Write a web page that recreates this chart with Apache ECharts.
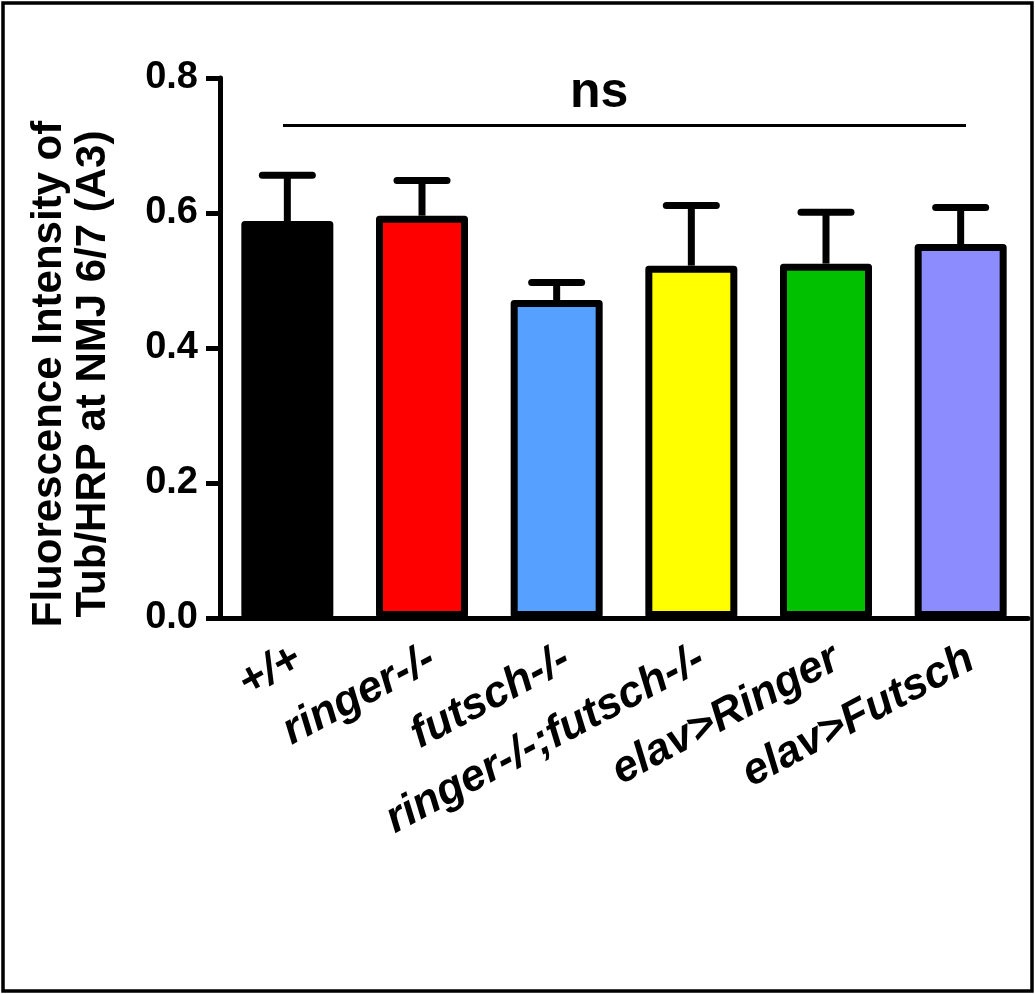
<!DOCTYPE html>
<html>
<head>
<meta charset="utf-8">
<script src="https://cdn.jsdelivr.net/npm/echarts@6/dist/echarts.min.js"></script>
<style>
  html, body { margin: 0; padding: 0; background: #fff; }
  #chart { width: 1035px; height: 994px; }
</style>
</head>
<body>
<div id="chart"></div>
<script>
const categories = ['+/+', 'ringer-/-', 'futsch-/-', 'ringer-/-;futsch-/-', 'elav>Ringer', 'elav>Futsch'];
const means = [0.588, 0.596, 0.471, 0.522, 0.525, 0.554];
const sem = [0.068, 0.052, 0.026, 0.089, 0.076, 0.054];
const barColors = ['#000000', '#ff0000', '#56a0ff', '#ffff00', '#00c000', '#8c8cff'];
const yTicks = ['0.0', '0.2', '0.4', '0.6', '0.8'];
const sigLevel = 0.73;
const sigText = 'ns';

const font = "'Liberation Sans', Arial, sans-serif";
const myChart = echarts.init(document.getElementById('chart'));

const option = {
  animation: false,
  grid: { left: 220, right: 7, top: 78, bottom: 376, outerBoundsMode: 'none', containLabel: false },
  xAxis: {
    type: 'category',
    data: categories,
    axisLine: { lineStyle: { color: '#000', width: 5 } },
    axisTick: { length: 14, lineStyle: { color: '#000', width: 5 } },
    axisLabel: {
      rotate: 28,
      margin: 44,
      padding: [0, -12, 0, 0],
      color: '#000',
      fontFamily: font,
      fontWeight: 'bold',
      fontStyle: 'italic',
      fontSize: 44
    }
  },
  yAxis: {
    type: 'value',
    min: 0,
    max: 0.8,
    interval: 0.2,
    name: 'Fluorescence Intensity of\nTub/HRP at NMJ 6/7 (A3)',
    nameLocation: 'middle',
    nameRotate: 90,
    nameGap: 105,
    nameTextStyle: {
      color: '#000',
      fontFamily: font,
      fontWeight: 'bold',
      fontSize: 42,
      lineHeight: 44,
      padding: [0, 52, 0, 0]
    },
    splitLine: { show: false },
    axisLine: { show: true, lineStyle: { color: '#000', width: 5 } },
    axisTick: { show: true, length: 14, lineStyle: { color: '#000', width: 5 } },
    axisLabel: {
      margin: 22,
      color: '#000',
      fontFamily: font,
      fontWeight: 'bold',
      fontSize: 38,
      formatter: (v) => yTicks[Math.round(v / 0.2)]
    }
  },
  series: [
    {
      type: 'bar',
      barWidth: 92,
      data: means.map((v, i) => ({
        value: v,
        itemStyle: { color: barColors[i] }
      })),
      itemStyle: { borderColor: '#000', borderWidth: 7, borderJoin: 'round' },
      markLine: {
        silent: true,
        symbol: 'none',
        lineStyle: { color: '#000', width: 3, type: 'solid' },
        label: { show: false },
        data: [[{ coord: [0, sigLevel], x: 283 }, { coord: [5, sigLevel], x: 966 }]]
      }
    },
    {
      type: 'custom',
      data: means.map((v, i) => [i, v, v + sem[i]]),
      renderItem: (params, api) => {
        const base = api.coord([api.value(0), api.value(1)]);
        const top = api.coord([api.value(0), api.value(2)]);
        const half = 25;
        const style = { stroke: '#000', lineWidth: 7, lineCap: 'round' };
        return {
          type: 'group',
          children: [
            { type: 'line', shape: { x1: base[0], y1: base[1], x2: top[0], y2: top[1] }, style: { stroke: '#000', lineWidth: 7 } },
            { type: 'line', shape: { x1: top[0] - half, y1: top[1], x2: top[0] + half, y2: top[1] }, style: style }
          ]
        };
      },
      z: 1
    }
  ],
  graphic: [
    {
      type: 'rect',
      shape: { x: 3, y: 3, width: 1029, height: 988 },
      style: { fill: 'none', stroke: '#000', lineWidth: 3.5 },
      silent: true
    },
    {
      type: 'text',
      left: 570,
      top: 68,
      style: { text: sigText, fill: '#000', font: 'bold 50px ' + font }
    }
  ]
};

myChart.setOption(option);
</script>
</body>
</html>
